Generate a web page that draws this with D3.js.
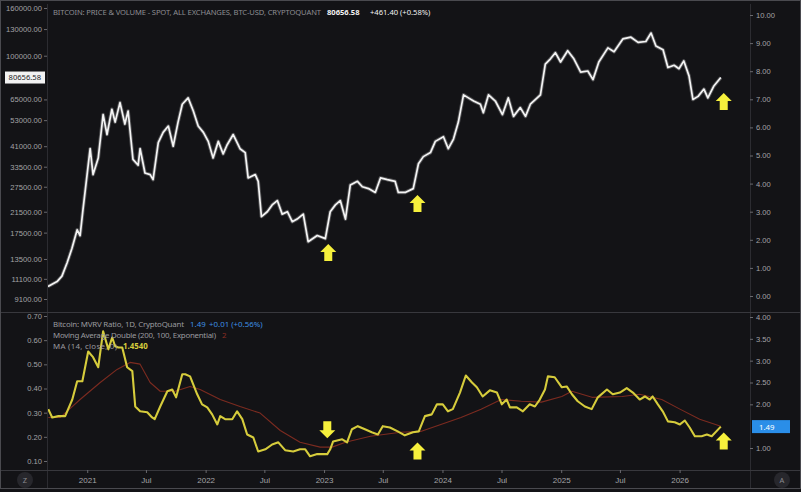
<!DOCTYPE html>
<html>
<head>
<meta charset="utf-8">
<script src="https://cdn.jsdelivr.net/npm/d3@7/dist/d3.min.js"></script>
<style>
    html, body { margin: 0; padding: 0; background: #131316; }
    svg { display: block; font-family: "Noto Sans", "DejaVu Sans", sans-serif; }
</style>
</head>
<body>
<div id="chart"></div>
<script>
/*
 * Bitcoin price (date, USD).
 */
var priceSeries = [
    ["2020-09-02", 10300], ["2020-09-30", 10800], ["2020-10-15", 11400], ["2020-10-31", 13000],
    ["2020-11-15", 15000], ["2020-12-01", 18000], ["2020-12-10", 17000], ["2020-12-19", 22000],
    ["2021-01-10", 40000], ["2021-01-19", 31000], ["2021-02-04", 36500], ["2021-02-19", 56000],
    ["2021-03-03", 46000], ["2021-03-18", 59000], ["2021-03-28", 52000], ["2021-04-12", 63000],
    ["2021-04-27", 51000], ["2021-05-07", 58000], ["2021-05-22", 36000], ["2021-06-07", 34000],
    ["2021-06-13", 40000], ["2021-06-28", 31500], ["2021-07-14", 31000], ["2021-07-23", 29500],
    ["2021-08-08", 42500], ["2021-08-23", 47000], ["2021-09-08", 50000], ["2021-09-23", 41000],
    ["2021-10-08", 52000], ["2021-10-21", 62000], ["2021-11-08", 66000], ["2021-11-24", 58000],
    ["2021-12-09", 50000], ["2021-12-25", 47000], ["2022-01-09", 43000], ["2022-01-24", 36500],
    ["2022-02-09", 43000], ["2022-02-24", 38000], ["2022-03-08", 41500], ["2022-03-27", 46000],
    ["2022-04-17", 40000], ["2022-05-03", 38500], ["2022-05-12", 30000], ["2022-06-03", 31000],
    ["2022-06-12", 29000], ["2022-06-22", 20500], ["2022-07-10", 21500], ["2022-07-25", 23000],
    ["2022-08-10", 24000], ["2022-08-25", 21000], ["2022-09-10", 21500], ["2022-09-25", 19500],
    ["2022-10-10", 20000], ["2022-10-29", 21000], ["2022-11-13", 16000], ["2022-12-11", 17000],
    ["2023-01-05", 16500], ["2023-01-20", 21500], ["2023-02-05", 23000], ["2023-02-20", 24000],
    ["2023-03-08", 20000], ["2023-03-23", 28000], ["2023-04-14", 29000], ["2023-04-29", 27500],
    ["2023-05-18", 27000], ["2023-06-08", 26000], ["2023-06-24", 30000], ["2023-07-15", 29500],
    ["2023-08-08", 29000], ["2023-08-18", 26000], ["2023-09-08", 26000], ["2023-10-03", 27000],
    ["2023-10-19", 34500], ["2023-11-03", 37000], ["2023-11-25", 38500], ["2023-12-10", 43000],
    ["2024-01-04", 45000], ["2024-01-19", 40000], ["2024-02-04", 44000], ["2024-02-19", 52000],
    ["2024-03-06", 68000], ["2024-03-21", 66000], ["2024-04-06", 64000], ["2024-04-27", 62000],
    ["2024-05-06", 57000], ["2024-05-22", 68000], ["2024-06-12", 64000], ["2024-07-04", 56000],
    ["2024-07-22", 66000], ["2024-08-07", 55000], ["2024-08-28", 60000], ["2024-09-13", 55000],
    ["2024-09-28", 62000], ["2024-10-29", 68000], ["2024-11-13", 92000], ["2024-11-29", 97000],
    ["2024-12-14", 103000], ["2024-12-30", 94000], ["2025-01-21", 105000], ["2025-02-09", 97000],
    ["2025-03-02", 85000], ["2025-03-24", 86000], ["2025-04-09", 79000], ["2025-04-27", 94000],
    ["2025-05-25", 108000], ["2025-06-13", 104000], ["2025-07-10", 118000], ["2025-08-04", 120000],
    ["2025-08-26", 114000], ["2025-09-19", 115000], ["2025-10-05", 125000], ["2025-10-20", 110000],
    ["2025-11-11", 106000], ["2025-11-26", 89000], ["2025-12-15", 91000], ["2025-12-30", 88000],
    ["2026-01-14", 95000], ["2026-01-30", 82000], ["2026-02-11", 65000], ["2026-02-27", 67000],
    ["2026-03-17", 72000], ["2026-03-29", 66000], ["2026-04-16", 74000], ["2026-05-08", 80656.58]
];
/*
 * MVRV ratio (right scale of the lower pane).
 */
var mvrvSeries = [
    ["2020-09-03", 1.89], ["2020-09-15", 1.70], ["2020-10-04", 1.73], ["2020-10-25", 1.73],
    ["2020-11-16", 2.11], ["2020-12-01", 2.53], ["2020-12-17", 2.53], ["2021-01-04", 3.21],
    ["2021-01-19", 3.08], ["2021-02-04", 2.85], ["2021-02-19", 3.67], ["2021-03-07", 3.26],
    ["2021-03-19", 3.53], ["2021-03-28", 3.33], ["2021-04-07", 3.30], ["2021-04-19", 3.30],
    ["2021-05-04", 2.85], ["2021-05-20", 2.76], ["2021-05-29", 1.95], ["2021-06-13", 1.84],
    ["2021-07-05", 1.82], ["2021-07-20", 1.70], ["2021-07-28", 1.66], ["2021-08-14", 1.95],
    ["2021-09-05", 2.30], ["2021-09-20", 2.34], ["2021-10-02", 2.16], ["2021-10-21", 2.69],
    ["2021-10-30", 2.69], ["2021-11-14", 2.64], ["2021-12-06", 2.23], ["2021-12-21", 2.00],
    ["2022-01-06", 1.93], ["2022-01-21", 1.77], ["2022-02-06", 1.54], ["2022-02-15", 1.73],
    ["2022-03-02", 1.66], ["2022-03-24", 1.66], ["2022-04-08", 1.84], ["2022-04-24", 1.66],
    ["2022-05-09", 1.31], ["2022-05-28", 1.24], ["2022-06-12", 0.92], ["2022-07-04", 0.97],
    ["2022-07-25", 1.08], ["2022-08-13", 1.13], ["2022-09-03", 0.95], ["2022-09-28", 0.92],
    ["2022-10-19", 0.97], ["2022-11-04", 0.97], ["2022-11-19", 0.81], ["2022-12-11", 0.86],
    ["2023-01-11", 0.86], ["2023-01-20", 0.97], ["2023-01-29", 1.15], ["2023-02-26", 1.20],
    ["2023-03-13", 1.13], ["2023-03-28", 1.43], ["2023-04-15", 1.50], ["2023-05-07", 1.43],
    ["2023-05-28", 1.36], ["2023-06-16", 1.31], ["2023-07-01", 1.50], ["2023-07-23", 1.47],
    ["2023-08-16", 1.38], ["2023-09-07", 1.29], ["2023-10-02", 1.36], ["2023-10-20", 1.38],
    ["2023-11-08", 1.73], ["2023-11-29", 1.77], ["2023-12-15", 2.00], ["2024-01-02", 2.00],
    ["2024-01-18", 1.84], ["2024-02-02", 1.89], ["2024-02-24", 2.27], ["2024-03-13", 2.66],
    ["2024-04-01", 2.50], ["2024-04-16", 2.39], ["2024-05-04", 2.18], ["2024-05-26", 2.32],
    ["2024-06-17", 2.27], ["2024-07-02", 2.00], ["2024-07-17", 2.11], ["2024-07-27", 1.93],
    ["2024-08-17", 1.93], ["2024-09-05", 1.84], ["2024-09-26", 2.00], ["2024-10-12", 1.95],
    ["2024-10-27", 2.11], ["2024-11-12", 2.34], ["2024-11-21", 2.64], ["2024-12-12", 2.62],
    ["2025-01-03", 2.39], ["2025-01-18", 2.41], ["2025-02-03", 2.23], ["2025-02-21", 2.07],
    ["2025-03-15", 1.95], ["2025-04-05", 1.89], ["2025-04-24", 2.16], ["2025-05-22", 2.34],
    ["2025-06-09", 2.23], ["2025-07-01", 2.27], ["2025-07-22", 2.37], ["2025-08-10", 2.27],
    ["2025-08-31", 2.11], ["2025-09-16", 2.18], ["2025-10-01", 2.11], ["2025-10-10", 2.18],
    ["2025-10-26", 2.00], ["2025-11-10", 1.84], ["2025-11-26", 1.61], ["2025-12-17", 1.59],
    ["2026-01-02", 1.54], ["2026-01-17", 1.63], ["2026-02-01", 1.47], ["2026-02-17", 1.27],
    ["2026-03-10", 1.27], ["2026-03-26", 1.31], ["2026-04-10", 1.27], ["2026-05-08", 1.49]
];
/*
 * Double exponential moving average of the MVRV ratio.
 */
var mvrvAverage = [
    ["2020-09-03", 1.70], ["2020-10-10", 1.70], ["2020-12-10", 2.11], ["2021-02-10", 2.50],
    ["2021-04-03", 2.80], ["2021-05-13", 2.96], ["2021-06-13", 2.92], ["2021-07-14", 2.50],
    ["2021-08-14", 2.30], ["2021-09-29", 2.30], ["2021-11-14", 2.41], ["2021-12-15", 2.34],
    ["2022-02-15", 2.11], ["2022-04-17", 1.95], ["2022-06-18", 1.80], ["2022-08-19", 1.40],
    ["2022-10-19", 1.13], ["2022-12-20", 1.02], ["2023-01-26", 1.02], ["2023-03-08", 1.13],
    ["2023-05-24", 1.27], ["2023-08-25", 1.36], ["2023-10-26", 1.38], ["2023-12-27", 1.54],
    ["2024-02-27", 1.70], ["2024-04-29", 1.89], ["2024-06-30", 2.11], ["2024-08-31", 2.07],
    ["2024-11-01", 2.05], ["2025-01-03", 2.18], ["2025-02-03", 2.30], ["2025-04-06", 2.16],
    ["2025-07-08", 2.18], ["2025-08-31", 2.23], ["2025-11-07", 2.11], ["2026-01-02", 1.89],
    ["2026-03-04", 1.66], ["2026-05-08", 1.50]
];
/*
 * Axis tick labels (1.50 on the lower right scale sits under the last value box).
 */
var priceTicks = [160000, 130000, 100000, 65000, 53000, 41000, 33500, 27500, 21500, 17500, 13500, 11100, 9100];
var upperRightTicks = [0, 1, 2, 3, 4, 5, 6, 7, 8, 9, 10];
var lowerLeftTicks = [0.1, 0.2, 0.3, 0.4, 0.5, 0.6, 0.7];
var lowerRightTicks = [1, 2, 2.5, 3, 3.5, 4];
/*
 * Yellow arrow annotations: [date, value, direction].
 */
var priceArrows = [["2023-01-14", 14300, "up"], ["2023-10-16", 23200, "up"], ["2026-05-17", 63400, "up"]];
var mvrvArrows = [["2023-01-11", 1.43, "down"], ["2023-10-16", 0.92, "up"], ["2026-05-17", 1.15, "up"]];
/*
 * Legend values.
 */
var lastPrice = 80656.58;
var lastMvrv = 1.49;

/*
 * Layout.
 */
var width = 801, height = 492;
var plotLeft = 47, plotRight = 750;
var upperTop = 4, paneSplit = 312, lowerBottom = 470, frameBottom = 488;
var parseDate = d3.timeParse("%Y-%m-%d");
var axisColor = "#a3a3a6", lineColor = "#2c2c31";

var svg = d3.select("#chart").append("svg")
    .attr("width", width)
    .attr("height", height);

svg.append("rect")
    .attr("width", width).attr("height", height)
    .attr("fill", "#131316");

/*
 * Scales.
 */
var x = d3.scaleTime()
    .domain([new Date(2020, 7, 30), new Date(2026, 7, 6)])
    .range([plotLeft, plotRight]);
var yPrice = d3.scaleLog().domain([9100, 160000]).range([299, 8]);
var yUpperRight = d3.scaleLinear().domain([0, 10]).range([296, 15]);
var yLowerLeft = d3.scaleLinear().domain([0.1, 0.7]).range([461, 316]);
var yMvrv = d3.scaleLinear().domain([1, 4]).range([448, 317]);

/*
 * Pane borders.
 */
var borders = svg.append("g").attr("stroke", lineColor).attr("stroke-width", 1);
borders.append("line").attr("x1", plotLeft + 0.5).attr("x2", plotLeft + 0.5).attr("y1", upperTop).attr("y2", frameBottom);
borders.append("line").attr("x1", plotRight + 0.5).attr("x2", plotRight + 0.5).attr("y1", upperTop).attr("y2", frameBottom);
borders.append("line").attr("x1", 0).attr("x2", width).attr("y1", paneSplit + 0.5).attr("y2", paneSplit + 0.5).attr("stroke", "#38383d");
borders.append("line").attr("x1", 0).attr("x2", width).attr("y1", lowerBottom + 0.5).attr("y2", lowerBottom + 0.5).attr("stroke", "#38383d");
svg.append("rect")
    .attr("x", 0.5).attr("y", 0.5)
    .attr("width", width - 1).attr("height", frameBottom)
    .attr("fill", "none").attr("stroke", "#4a4a4f");

/*
 * Axes: draw with d3 axes, then restyle.
 */
function styleAxis(g) {
    g.select(".domain").remove();
    g.selectAll(".tick line").attr("stroke", "#6a6a6f");
    g.selectAll(".tick text").attr("fill", axisColor).style("font-size", "7.6px");
}

svg.append("g")
    .attr("transform", "translate(" + plotLeft + ",0)")
    .call(d3.axisLeft(yPrice).tickValues(priceTicks).tickFormat(d3.format(".2f")).tickSize(3).tickPadding(2))
    .call(styleAxis);

svg.append("g")
    .attr("transform", "translate(" + plotRight + ",0)")
    .call(d3.axisRight(yUpperRight).tickValues(upperRightTicks).tickFormat(d3.format(".2f")).tickSize(3).tickPadding(3))
    .call(styleAxis);

svg.append("g")
    .attr("transform", "translate(" + plotLeft + ",0)")
    .call(d3.axisLeft(yLowerLeft).tickValues(lowerLeftTicks).tickFormat(d3.format(".2f")).tickSize(3).tickPadding(2))
    .call(styleAxis);

svg.append("g")
    .attr("transform", "translate(" + plotRight + ",0)")
    .call(d3.axisRight(yMvrv).tickValues(lowerRightTicks).tickFormat(d3.format(".2f")).tickSize(3).tickPadding(3))
    .call(styleAxis);

var timeTicks = d3.timeMonth.every(6).range(new Date(2021, 0, 1), new Date(2026, 1, 1));
svg.append("g")
    .attr("transform", "translate(0," + lowerBottom + ")")
    .call(d3.axisBottom(x).tickValues(timeTicks).tickSize(3).tickPadding(4)
        .tickFormat(function(d) { return d.getMonth() === 0 ? d3.timeFormat("%Y")(d) : "Jul"; }))
    .call(styleAxis)
    .selectAll(".tick text").style("font-size", "8px");

/*
 * Clip to panes.
 */
var defs = svg.append("defs");
defs.append("clipPath").attr("id", "clip-upper").append("rect")
    .attr("x", plotLeft + 1).attr("y", upperTop).attr("width", plotRight - plotLeft - 1).attr("height", paneSplit - upperTop);
defs.append("clipPath").attr("id", "clip-lower").append("rect")
    .attr("x", plotLeft + 1).attr("y", paneSplit + 1).attr("width", plotRight - plotLeft - 1).attr("height", lowerBottom - paneSplit - 1);

/*
 * Price line.
 */
var priceLine = d3.line()
    .x(function(d) { return x(parseDate(d[0])); })
    .y(function(d) { return yPrice(d[1]); });

var upper = svg.append("g").attr("clip-path", "url(#clip-upper)");
upper.append("path")
    .attr("d", priceLine(priceSeries))
    .attr("fill", "none").attr("stroke", "#ffffff").attr("stroke-opacity", 0.25)
    .attr("stroke-width", 3.6).attr("stroke-linejoin", "round");
upper.append("path")
    .attr("d", priceLine(priceSeries))
    .attr("fill", "none").attr("stroke", "#f4f4f4")
    .attr("stroke-width", 1.7).attr("stroke-linejoin", "round");

/*
 * MVRV lines.
 */
var mvrvLine = d3.line()
    .x(function(d) { return x(parseDate(d[0])); })
    .y(function(d) { return yMvrv(d[1]); });

var lower = svg.append("g").attr("clip-path", "url(#clip-lower)");
lower.append("path")
    .attr("d", mvrvLine(mvrvAverage))
    .attr("fill", "none").attr("stroke", "#7c2b20")
    .attr("stroke-width", 1.1).attr("stroke-linejoin", "round");
lower.append("path")
    .attr("d", mvrvLine(mvrvSeries))
    .attr("fill", "none").attr("stroke", "#d6cc3c")
    .attr("stroke-width", 2.1).attr("stroke-linejoin", "round");

/*
 * Arrow annotations.
 */
function arrowPath(dir) {
    var s = dir === "up" ? 1 : -1;
    return "M0," + (-9 * s) + "L8," + (-1 * s) + "L4," + (-1 * s) + "L4," + (8 * s) +
        "L-4," + (8 * s) + "L-4," + (-1 * s) + "L-8," + (-1 * s) + "Z";
}
upper.selectAll(".arrow").data(priceArrows).enter().append("path")
    .attr("class", "arrow")
    .attr("transform", function(d) { return "translate(" + x(parseDate(d[0])) + "," + yPrice(d[1]) + ")"; })
    .attr("d", function(d) { return arrowPath(d[2]); })
    .attr("fill", "#f6f03c");
svg.selectAll(".arrow-lower").data(mvrvArrows).enter().append("path")
    .attr("class", "arrow-lower")
    .attr("transform", function(d) { return "translate(" + x(parseDate(d[0])) + "," + yMvrv(d[1]) + ")"; })
    .attr("d", function(d) { return arrowPath(d[2]); })
    .attr("fill", "#f6f03c");

/*
 * Last value labels on the axes.
 */
var priceY = yPrice(lastPrice);
svg.append("rect")
    .attr("x", 5).attr("y", priceY - 6).attr("width", 40).attr("height", 12)
    .attr("fill", "#f2f2f2");
svg.append("text")
    .attr("x", 41).attr("y", priceY + 2.8).attr("text-anchor", "end")
    .attr("fill", "#1a1a1e").style("font-size", "7.6px")
    .text(d3.format(".2f")(lastPrice));

var mvrvY = yMvrv(lastMvrv);
svg.append("rect")
    .attr("x", 752).attr("y", mvrvY - 6.5).attr("width", 38).attr("height", 13)
    .attr("fill", "#2a8ee8");
svg.append("text")
    .attr("x", 759).attr("y", mvrvY + 3).attr("fill", "#ffffff").style("font-size", "7.8px")
    .text(d3.format(".2f")(lastMvrv));

/*
 * Legends: each piece placed where it stands in the reference.
 */
function legendText(xPos, yPos, txt, color, size, fit) {
    var t = svg.append("text")
        .attr("x", xPos).attr("y", yPos)
        .attr("fill", color).style("font-size", size + "px")
        .text(txt);
    if (fit) {
        t.attr("textLength", fit).attr("lengthAdjust", "spacing");
    }
    return t;
}

legendText(53, 15, "BITCOIN: PRICE & VOLUME - SPOT, ALL EXCHANGES, BTC-USD, CRYPTOQUANT", "#8d8d92", 7.6, 268);
legendText(327, 15, "80656.58", "#f2f2f2", 7.6).style("font-weight", "bold");
legendText(370, 15, "+461.40 (+0.58%)", "#f2f2f2", 7.6);

legendText(53, 327, "Bitcoin: MVRV Ratio, 1D, CryptoQuant", "#9a9a9f", 7.9, 131);
legendText(190, 327, "1.49", "#3d8fe0", 7.9);
legendText(209, 327, "+0.01 (+0.56%)", "#3d8fe0", 7.9);

legendText(53, 338, "Moving Average Double (200, 100, Exponential)", "#9a9a9f", 7.9, 163);
legendText(222, 338, "2", "#8c2e22", 7.9);

legendText(53, 349, "MA (14, close, 0)", "#9a9a9f", 7.9, 64);
legendText(123, 349, "1.4540", "#d6cc3c", 7.9).style("font-weight", "bold");

/*
 * Corner buttons.
 */
[["Z", 25], ["A", 782]].forEach(function(b) {
    svg.append("circle").attr("cx", b[1]).attr("cy", 480).attr("r", 8).attr("fill", "#27272c");
    svg.append("text").attr("x", b[1]).attr("y", 483).attr("text-anchor", "middle")
        .attr("fill", "#8a8a8f").style("font-size", "7.5px").text(b[0]);
});
</script>
</body>
</html>
